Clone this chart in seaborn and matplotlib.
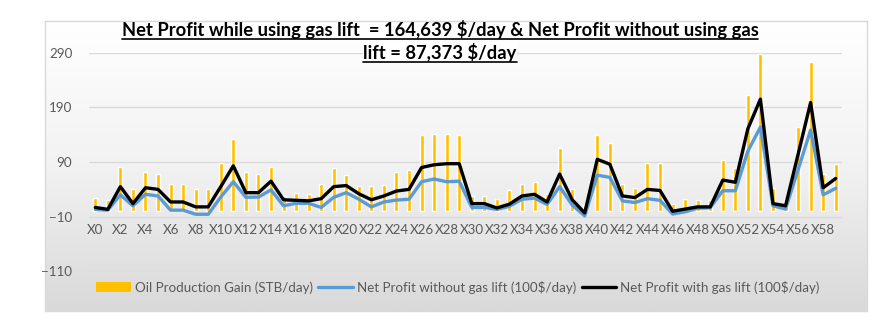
import numpy as np
import pandas as pd
import matplotlib
matplotlib.use("Agg")
import matplotlib.pyplot as plt
import seaborn as sns
from matplotlib.patches import Patch
from matplotlib.lines import Line2D
from matplotlib.colors import LinearSegmentedColormap

categories = [f"X{i}" for i in range(60)]

oil_gain = [25, 20, 81, 41, 72, 68, 50, 49, 40, 40,
            88, 132, 72, 69, 81, 28, 33, 31, 50, 79,
            67, 47, 47, 48, 72, 76, 139, 141, 141, 140,
            28, 28, 22, 39, 50, 54, 32, 115, 40, 12,
            139, 124, 50, 43, 88, 88, 14, 22, 20, 20,
            94, 80, 212, 287, 42, 22, 154, 273, 69, 87]

profit_with = [7, 3.5, 45, 14, 43, 40, 17, 17, 8, 8,
               45, 83, 34, 34, 55, 21, 20, 19, 23, 45,
               47, 32, 21, 28, 37, 40, 80, 85, 87, 87,
               14, 14, 6, 13, 28, 31, 17, 68, 21, -3,
               95, 86, 28, 25, 40, 38, 0, 4, 8, 8,
               57, 53, 151, 205, 14, 10, 104, 199, 43, 60]

profit_without = [3.5, 2, 30, 10, 31, 28, 2, 2, -5.5, -5.5,
                  26, 54, 25.5, 26, 39, 10, 14.5, 14.5, 7, 25.5,
                  34, 22, 8, 17, 20.5, 22, 54, 59, 54, 55,
                  7, 7, 3.5, 9, 22, 24, 12.5, 45, 11.5, -8.5,
                  66, 62, 19, 16, 23, 20, -5, -1, 5.5, 6.5,
                  37.5, 37.5, 110, 154, 10, 4, 76, 148.5, 30, 42]

y_ticks = [-110, -10, 90, 190, 290]

legend_labels = ["Oil Production Gain (STB/day)",
                 "Net Profit without gas lift (100$/day)",
                 "Net Profit with gas lift (100$/day)"]

title_line1 = "Net Profit while using gas lift  = 164,639 $/day & Net Profit without using gas"
title_line2 = "lift = 87,373 $/day"

df = pd.DataFrame({"idx": range(len(categories)), "cat": categories,
                   "gain": oil_gain, "with": profit_with, "without": profit_without})

sns.set_theme(style="white")
plt.rcParams["font.family"] = ["Lato", "DejaVu Sans"]

W, H = 878, 332
fig = plt.figure(figsize=(W / 100, H / 100), dpi=100)
fig.patch.set_facecolor("white")

# gradient chart area
bg = fig.add_axes([45 / W, 21 / H, 822 / W, 290 / H], zorder=0)
grad = np.linspace(0, 1, 256).reshape(-1, 1)
cmap = LinearSegmentedColormap.from_list("g", ["#ffffff", "#f2f2f2", "#d9d9d9"])
bg.imshow(grad, aspect="auto", cmap=cmap, extent=[0, 1, 0, 1], origin="upper")
bg.set_xticks([])
bg.set_yticks([])
for s in bg.spines.values():
    s.set_color("#d9d9d9")
    s.set_linewidth(1)

ax = fig.add_axes([89 / W, 60.6 / H, 753 / W, 218.7 / H], zorder=1)
ax.patch.set_alpha(0)

gold = "#FFC000"
blue = "#5B9BD5"

sns.barplot(data=df, x="idx", y="gain", color=gold, saturation=1, width=0.32,
            ax=ax, zorder=2)
sns.lineplot(data=df, x="idx", y="without", color=blue, lw=2.4, sort=False,
             ax=ax, zorder=3)
sns.lineplot(data=df, x="idx", y="with", color="black", lw=2.4, sort=False,
             ax=ax, zorder=4)

ax.set_xlim(-0.5, len(categories) - 0.5)
ax.set_ylim(-110, 290)
ax.set_yticks(y_ticks)
ax.set_xticks(range(0, len(categories), 2))
ax.set_xticklabels(categories[::2])
ax.set_xlabel("")
ax.set_ylabel("")
for name, s in ax.spines.items():
    s.set_visible(False)
ax.spines["bottom"].set_position(("data", -10))
ax.tick_params(axis="x", length=0, pad=5, labelsize=9.6, labelcolor="#595959")
ax.tick_params(axis="y", length=0, pad=12, labelsize=9.6, labelcolor="#595959")
ax.yaxis.grid(True, color="#d9d9d9", lw=1)
ax.xaxis.grid(False)
ax.set_axisbelow(True)

handles = [Patch(facecolor=gold, edgecolor="none"),
           Line2D([], [], color=blue, lw=2.4),
           Line2D([], [], color="black", lw=2.4)]
fig.legend(handles, legend_labels, loc="center", bbox_to_anchor=(458 / W, 0.1355),
           ncol=3, frameon=False, fontsize=9.6, handlelength=2.6, columnspacing=0.4,
           handletextpad=0.3, labelcolor="#595959")

y1 = (H - 36) / H
y2 = (H - 58.5) / H
t1 = fig.text(440 / W, y1, title_line1, ha="center", va="baseline",
              fontsize=13.2, fontweight="bold", color="black", zorder=5)
t2 = fig.text(440 / W, y2, title_line2, ha="center", va="baseline",
              fontsize=13.2, fontweight="bold", color="black", zorder=5,
              bbox=dict(facecolor="white", edgecolor="none", pad=0.5))

fig.canvas.draw()
r = fig.canvas.get_renderer()
for t, yb in [(t1, y1), (t2, y2)]:
    bb = t.get_window_extent(r)
    yu = (yb * H - 3.0) / H
    fig.add_artist(Line2D([bb.x0 / W, bb.x1 / W], [yu, yu], transform=fig.transFigure,
                          color="black", lw=1.2, zorder=6))

fig.savefig("out.png", dpi=100)
